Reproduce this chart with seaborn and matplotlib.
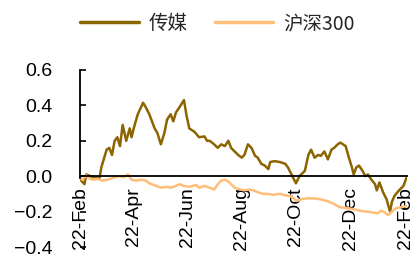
import matplotlib
matplotlib.use("Agg")
import matplotlib.pyplot as plt
import matplotlib.dates as mdates
import seaborn as sns
import pandas as pd

# ---------------- data ----------------
media_dates = [
    "2022-02-21", "2022-02-26", "2022-02-28", "2022-03-07", "2022-03-15", "2022-03-17",
    "2022-03-23", "2022-03-26", "2022-03-29", "2022-04-01", "2022-04-04", "2022-04-07",
    "2022-04-10", "2022-04-14", "2022-04-18", "2022-04-20", "2022-04-23", "2022-04-27",
    "2022-05-03", "2022-05-06", "2022-05-10", "2022-05-16", "2022-05-19", "2022-05-23",
    "2022-05-27", "2022-05-30", "2022-06-03", "2022-06-06", "2022-06-09", "2022-06-13",
    "2022-06-18", "2022-06-21", "2022-06-24", "2022-06-30", "2022-07-05", "2022-07-11",
    "2022-07-14", "2022-07-17", "2022-07-22", "2022-07-26", "2022-07-30", "2022-08-03",
    "2022-08-07", "2022-08-10", "2022-08-14", "2022-08-18", "2022-08-22", "2022-08-25",
    "2022-08-29", "2022-09-02", "2022-09-06", "2022-09-09", "2022-09-13", "2022-09-17",
    "2022-09-21", "2022-09-23", "2022-09-28", "2022-10-04", "2022-10-10", "2022-10-13",
    "2022-10-17", "2022-10-22", "2022-10-26", "2022-11-01", "2022-11-05", "2022-11-08",
    "2022-11-12", "2022-11-16", "2022-11-19", "2022-11-23", "2022-11-27", "2022-12-01",
    "2022-12-04", "2022-12-08", "2022-12-11", "2022-12-14", "2022-12-17", "2022-12-20",
    "2022-12-24", "2022-12-26", "2022-12-29", "2023-01-01", "2023-01-05", "2023-01-08",
    "2023-01-11", "2023-01-15", "2023-01-19", "2023-01-21", "2023-01-24", "2023-01-28",
    "2023-02-01", "2023-02-04", "2023-02-05", "2023-02-07", "2023-02-10", "2023-02-15",
    "2023-02-20", "2023-02-24",
]
media_vals = [
    -0.017, -0.045, 0.01, -0.005, -0.01, 0.05,
    0.15, 0.16, 0.12, 0.20, 0.22, 0.17,
    0.29, 0.20, 0.27, 0.22, 0.28, 0.35,
    0.415, 0.39, 0.35, 0.27, 0.245, 0.18,
    0.245, 0.32, 0.35, 0.31, 0.36, 0.39,
    0.43, 0.34, 0.27, 0.25, 0.22, 0.225,
    0.20, 0.20, 0.18, 0.16, 0.18, 0.17,
    0.20, 0.16, 0.14, 0.12, 0.105, 0.12,
    0.18, 0.16, 0.115, 0.105, 0.07, 0.06,
    0.04, 0.08, 0.085, 0.08, 0.07, 0.05,
    0.01, -0.04, 0.0, 0.03, 0.12, 0.15,
    0.105, 0.12, 0.115, 0.14, 0.095, 0.15,
    0.16, 0.18, 0.19, 0.18, 0.17, 0.115,
    0.05, 0.01, 0.05, 0.06, 0.03, 0.0,
    0.01, -0.02, -0.045, -0.08, -0.035, -0.09,
    -0.13, -0.185, -0.20, -0.145, -0.11, -0.08,
    -0.055, 0.0,
]

hs300_dates = [
    "2022-02-21", "2022-02-24", "2022-02-28", "2022-03-03", "2022-03-07", "2022-03-13",
    "2022-03-18", "2022-03-24", "2022-03-30", "2022-04-06", "2022-04-12", "2022-04-16",
    "2022-04-20", "2022-04-25", "2022-05-01", "2022-05-06", "2022-05-10", "2022-05-18",
    "2022-05-23", "2022-05-29", "2022-06-03", "2022-06-09", "2022-06-13", "2022-06-18",
    "2022-06-24", "2022-07-02", "2022-07-05", "2022-07-11", "2022-07-17", "2022-07-22",
    "2022-07-26", "2022-07-30", "2022-08-03", "2022-08-07", "2022-08-10", "2022-08-14",
    "2022-08-20", "2022-08-25", "2022-08-31", "2022-09-04", "2022-09-09", "2022-09-15",
    "2022-09-21", "2022-09-26", "2022-10-04", "2022-10-12", "2022-10-17", "2022-10-23",
    "2022-10-28", "2022-11-03", "2022-11-11", "2022-11-18", "2022-11-26", "2022-12-03",
    "2022-12-10", "2022-12-18", "2022-12-25", "2023-01-02", "2023-01-09", "2023-01-17",
    "2023-01-22", "2023-01-26", "2023-01-30", "2023-02-03", "2023-02-07", "2023-02-12",
    "2023-02-18", "2023-02-22", "2023-02-24",
]
hs300_vals = [
    -0.01, -0.02, 0.005, -0.01, -0.02, -0.015,
    -0.025, -0.02, -0.01, 0.0, -0.005, 0.01,
    -0.02, -0.025, -0.02, -0.025, -0.04, -0.055,
    -0.065, -0.06, -0.065, -0.055, -0.045, -0.055,
    -0.06, -0.05, -0.065, -0.055, -0.065, -0.075,
    -0.045, -0.025, -0.02, -0.03, -0.045, -0.065,
    -0.075, -0.08, -0.075, -0.08, -0.09, -0.10,
    -0.10, -0.105, -0.10, -0.11, -0.115, -0.14,
    -0.13, -0.125, -0.125, -0.13, -0.14, -0.155,
    -0.175, -0.18, -0.185, -0.195, -0.20, -0.205,
    -0.21, -0.195, -0.205, -0.22, -0.20, -0.18,
    -0.175, -0.17, -0.17,
]

series_names = ["传媒", "沪深300"]
series_colors = ["#8C6400", "#FFBE78"]
xtick_dates = ["2022-02-22", "2022-04-22", "2022-06-22", "2022-08-22",
               "2022-10-22", "2022-12-22", "2023-02-22"]
yticks = [-0.4, -0.2, 0.0, 0.2, 0.4, 0.6]

# ---------------- frame ----------------
df = pd.concat([
    pd.DataFrame({"date": pd.to_datetime(media_dates), "value": media_vals,
                  "series": series_names[0]}),
    pd.DataFrame({"date": pd.to_datetime(hs300_dates), "value": hs300_vals,
                  "series": series_names[1]}),
], ignore_index=True)

sns.set_theme(style="white")
plt.rcParams["font.family"] = ["Liberation Sans", "Noto Sans CJK SC", "DejaVu Sans"]

fig = plt.figure(figsize=(4.16, 2.57), dpi=100)
ax = fig.add_axes([80 / 416, 10 / 257, 327 / 416, 177 / 257])

sns.lineplot(data=df, x="date", y="value", hue="series",
             palette=dict(zip(series_names, series_colors)),
             hue_order=series_names, linewidth=1.8, ax=ax, legend=True)

ax.set_xlim(pd.Timestamp("2022-02-21"), pd.Timestamp("2023-02-24"))
ax.set_ylim(-0.4, 0.6)
ax.set_yticks(yticks)
ax.set_xticks(pd.to_datetime(xtick_dates))
ax.xaxis.set_major_formatter(mdates.DateFormatter("%d-%b"))
ax.set_xlabel("")
ax.set_ylabel("")

for s in ["top", "right"]:
    ax.spines[s].set_visible(False)
ax.spines["bottom"].set_position(("data", 0))
ax.spines["bottom"].set_color("black")
ax.spines["bottom"].set_linewidth(1.3)
ax.spines["left"].set_color("black")
ax.spines["left"].set_linewidth(1.3)
ax.spines["left"].set_bounds(-0.01, 0.6)

ax.yaxis.set_tick_params(which="major", direction="in", length=4, width=1.2,
                         color="black", left=True, labelsize=14, pad=20,
                         labelcolor="black")
ax.xaxis.set_tick_params(which="major", bottom=False, labelsize=14, pad=2,
                         labelrotation=90, labelcolor="black")
for lab in ax.get_xticklabels():
    lab.set_va("top")

handles, labels = ax.get_legend_handles_labels()
leg = ax.legend(handles, labels, loc="upper center", bbox_to_anchor=(0.42, 1.42),
                ncol=2, frameon=False, handlelength=3.0, columnspacing=1.4,
                handletextpad=0.5,
                prop={"family": ["Noto Sans CJK SC", "DejaVu Sans"], "size": 14})
for line in leg.get_lines():
    line.set_linewidth(2.5)

fig.savefig("out.png", dpi=100)
